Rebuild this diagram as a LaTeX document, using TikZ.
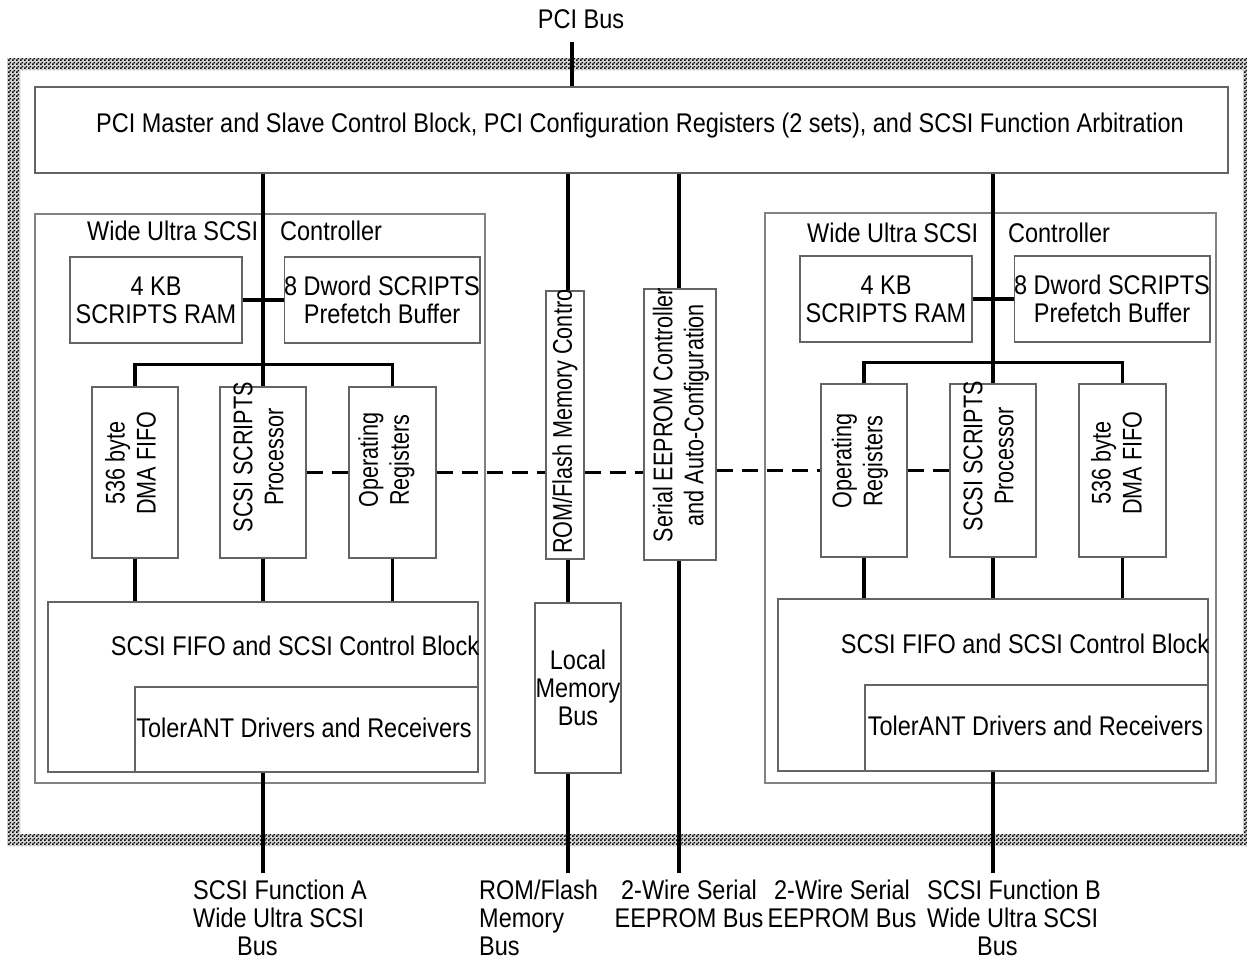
\documentclass[tikz,border=0pt]{standalone}
\usepackage{fontspec}
\setmainfont{Liberation Sans}[FakeStretch=0.87]
\newfontfamily\vfont{Liberation Sans}[FakeStretch=0.80]
\usetikzlibrary{patterns}
\pgfdeclarepatternformonly{chk}{\pgfpointorigin}{\pgfqpoint{4pt}{4pt}}{\pgfqpoint{4pt}{4pt}}{%
  \pgfpathrectangle{\pgfpointorigin}{\pgfqpoint{2pt}{2pt}}%
  \pgfpathrectangle{\pgfqpoint{2pt}{2pt}}{\pgfqpoint{2pt}{2pt}}%
  \pgfusepath{fill}}
\definecolor{boxgray}{RGB}{100,100,100}
\definecolor{ctlgray}{RGB}{130,130,130}
\begin{document}
\begin{tikzpicture}[x=1pt,y=-1pt,
  every node/.style={font=\fontsize{27}{28}\selectfont, inner sep=0pt},
  blk/.style={draw=boxgray, line width=1.2pt, fill=white, rectangle, align=center},
  ctl/.style={draw=ctlgray, line width=1.2pt, rectangle},
  bus/.style={line width=3.6pt, black},
  dsh/.style={line width=3pt, dash pattern=on 16pt off 9pt},
  vtxt/.style={rotate=90, align=center, font=\vfont\fontsize{27}{31}\selectfont},
  lbl/.style={align=left}]
\useasboundingbox (0,0) rectangle (1247,964);
% hatched chip frame
\fill[black!15, even odd rule] (7,58) rectangle (1258,846) (20,70) rectangle (1243,834);
\fill[pattern=chk, even odd rule] (7,58) rectangle (1258,846) (20,70) rectangle (1243,834);
% top block
\node[blk, minimum width=1193pt, minimum height=86pt] (pci) at (631.5,130) {};
\node (pcit) at (640,126) {PCI Master and Slave Control Block, PCI Configuration Registers (2 sets), and SCSI Function Arbitration};
\node (pcibus) at (581,19) {PCI Bus};
% controller A
\node[ctl, minimum width=450pt, minimum height=569pt] (ctlA) at (260,498.5) {};
\node[anchor=west] (ttlA) at (87,231) {Wide Ultra SCSI\hspace{22pt}Controller};
\node[blk, minimum width=172pt, minimum height=86pt] (ramA) at (156,300) {4 KB\\SCRIPTS RAM};
\node[blk, minimum width=194pt, minimum height=86pt] (pfA) at (382,300) {8 Dword SCRIPTS\\Prefetch Buffer};
\node[blk, minimum width=86pt, minimum height=171pt] (dmaA) at (135,472.5) {};
\node[blk, minimum width=86pt, minimum height=171pt] (procA) at (263,472.5) {};
\node[blk, minimum width=87pt, minimum height=171pt] (regA) at (392.5,472.5) {};
\node[blk, minimum width=430pt, minimum height=170pt] (fifoA) at (263,687) {};
\node[blk, minimum width=343pt, minimum height=85pt] (tolA) at (306.5,729.5) {};
\node (fifoAt) at (295,646) {SCSI FIFO and SCSI Control Block};
\node (tolAt) at (304,728) {TolerANT Drivers and Receivers};
% middle
\node[blk, minimum width=38pt, minimum height=268pt] (rom) at (565,425) {};
\node[blk, minimum width=72pt, minimum height=271pt] (eep) at (680,424.5) {};
\node[blk, minimum width=86pt, minimum height=170pt] (lmb) at (578,688) {Local\\Memory\\Bus};
% controller B
\node[ctl, minimum width=451pt, minimum height=570pt] (ctlB) at (990.5,498) {};
\node[anchor=west] (ttlB) at (807,233) {Wide Ultra SCSI\hspace{30pt}Controller};
\node[blk, minimum width=172pt, minimum height=86pt] (ramB) at (886,299) {4 KB\\SCRIPTS RAM};
\node[blk, minimum width=194pt, minimum height=86pt] (pfB) at (1112,299) {8 Dword SCRIPTS\\Prefetch Buffer};
\node[blk, minimum width=86pt, minimum height=173pt] (regB) at (864,470.5) {};
\node[blk, minimum width=86pt, minimum height=173pt] (procB) at (993,470.5) {};
\node[blk, minimum width=87pt, minimum height=173pt] (dmaB) at (1122.5,470.5) {};
\node[blk, minimum width=430pt, minimum height=172pt] (fifoB) at (993,685) {};
\node[blk, minimum width=343pt, minimum height=86pt] (tolB) at (1036.5,728) {};
\node (fifoBt) at (1025,644) {SCSI FIFO and SCSI Control Block};
\node (tolBt) at (1035.5,726) {TolerANT Drivers and Receivers};
% dashed register links
\draw[dsh] (procA.east) -- (regA.west);
\draw[dsh] (regA.east) -- (regA.east -| rom.west);
\draw[dsh] (rom.east |- regA.east) -- (eep.west |- regA.east);
\draw[dsh] (eep.east |- regB.west) -- (regB.west);
\draw[dsh] (regB.east) -- (procB.west);
% vertical texts
\node[vtxt] (dmaAt) at (130.5,463) {536 byte\\DMA FIFO};
\node[vtxt] (procAt) at (258.5,457) {SCSI SCRIPTS\\Processor};
\node[vtxt] (regAt) at (386.5,460) {Operating\\Registers};
\node[vtxt] (regBt) at (860,461) {Operating\\Registers};
\node[vtxt] (procBt) at (988.5,456) {SCSI SCRIPTS\\Processor};
\node[vtxt] (dmaBt) at (1116.5,463) {536 byte\\DMA FIFO};
\node[vtxt] (eept) at (681,415) {Serial EEPROM Controller\\and Auto-Configuration};
\begin{scope}
  \clip (rom.south west) rectangle (rom.north east);
  \node[vtxt, anchor=west] (romt) at (565,554) {ROM/Flash Memory Control};
\end{scope}
% buses controller A
\draw[bus] (pci.south -| procA.north) -- (procA.north);
\draw[bus] (ramA.east) -- (pfA.west);
\draw[bus] (dmaA.north) -- ++(0,-22) -| (regA.north);
\draw[bus] (dmaA.south) -- (dmaA.south |- fifoA.north);
\draw[bus] (procA.south) -- (procA.south |- fifoA.north);
\draw[bus] (regA.south) -- (regA.south |- fifoA.north);
\coordinate (endA) at (263,873);
\draw[bus] (endA |- tolA.south) -- (endA);
% buses controller B
\draw[bus] (pci.south -| procB.north) -- (procB.north);
\draw[bus] (ramB.east) -- (pfB.west);
\draw[bus] (regB.north) -- ++(0,-21) -| (dmaB.north);
\draw[bus] (regB.south) -- (regB.south |- fifoB.north);
\draw[bus] (procB.south) -- (procB.south |- fifoB.north);
\draw[bus] (dmaB.south) -- (dmaB.south |- fifoB.north);
\coordinate (endB) at (993,873);
\draw[bus] (endB |- tolB.south) -- (endB);
% PCI bus
\coordinate (pcitop) at (572,42);
\draw[bus] (pcitop) -- (pcitop |- pci.north);
% ROM / EEPROM buses
\coordinate (romend) at (568,873);
\draw[bus] (romend |- pci.south) -- (romend |- rom.north);
\draw[bus] (romend |- rom.south) -- (romend |- lmb.north);
\draw[bus] (romend |- lmb.south) -- (romend);
\coordinate (eepend) at (679,873);
\draw[bus] (eepend |- pci.south) -- (eepend |- eep.north);
\draw[bus] (eepend |- eep.south) -- (eepend);
% bottom labels
\node[lbl, anchor=west] (labA) at (193,918) {SCSI Function A\\Wide Ultra SCSI\\\hspace*{44pt}Bus};
\node[lbl, anchor=west] (labR) at (479,918) {ROM/Flash\\Memory\\Bus};
\node[align=center] (labE1) at (689,904) {2-Wire Serial\\EEPROM Bus};
\node[align=center] (labE2) at (842,904) {2-Wire Serial\\EEPROM Bus};
\node[lbl, anchor=west] (labB) at (927,918) {SCSI Function B\\Wide Ultra SCSI\\\hspace*{50pt}Bus};
\end{tikzpicture}
\end{document}
